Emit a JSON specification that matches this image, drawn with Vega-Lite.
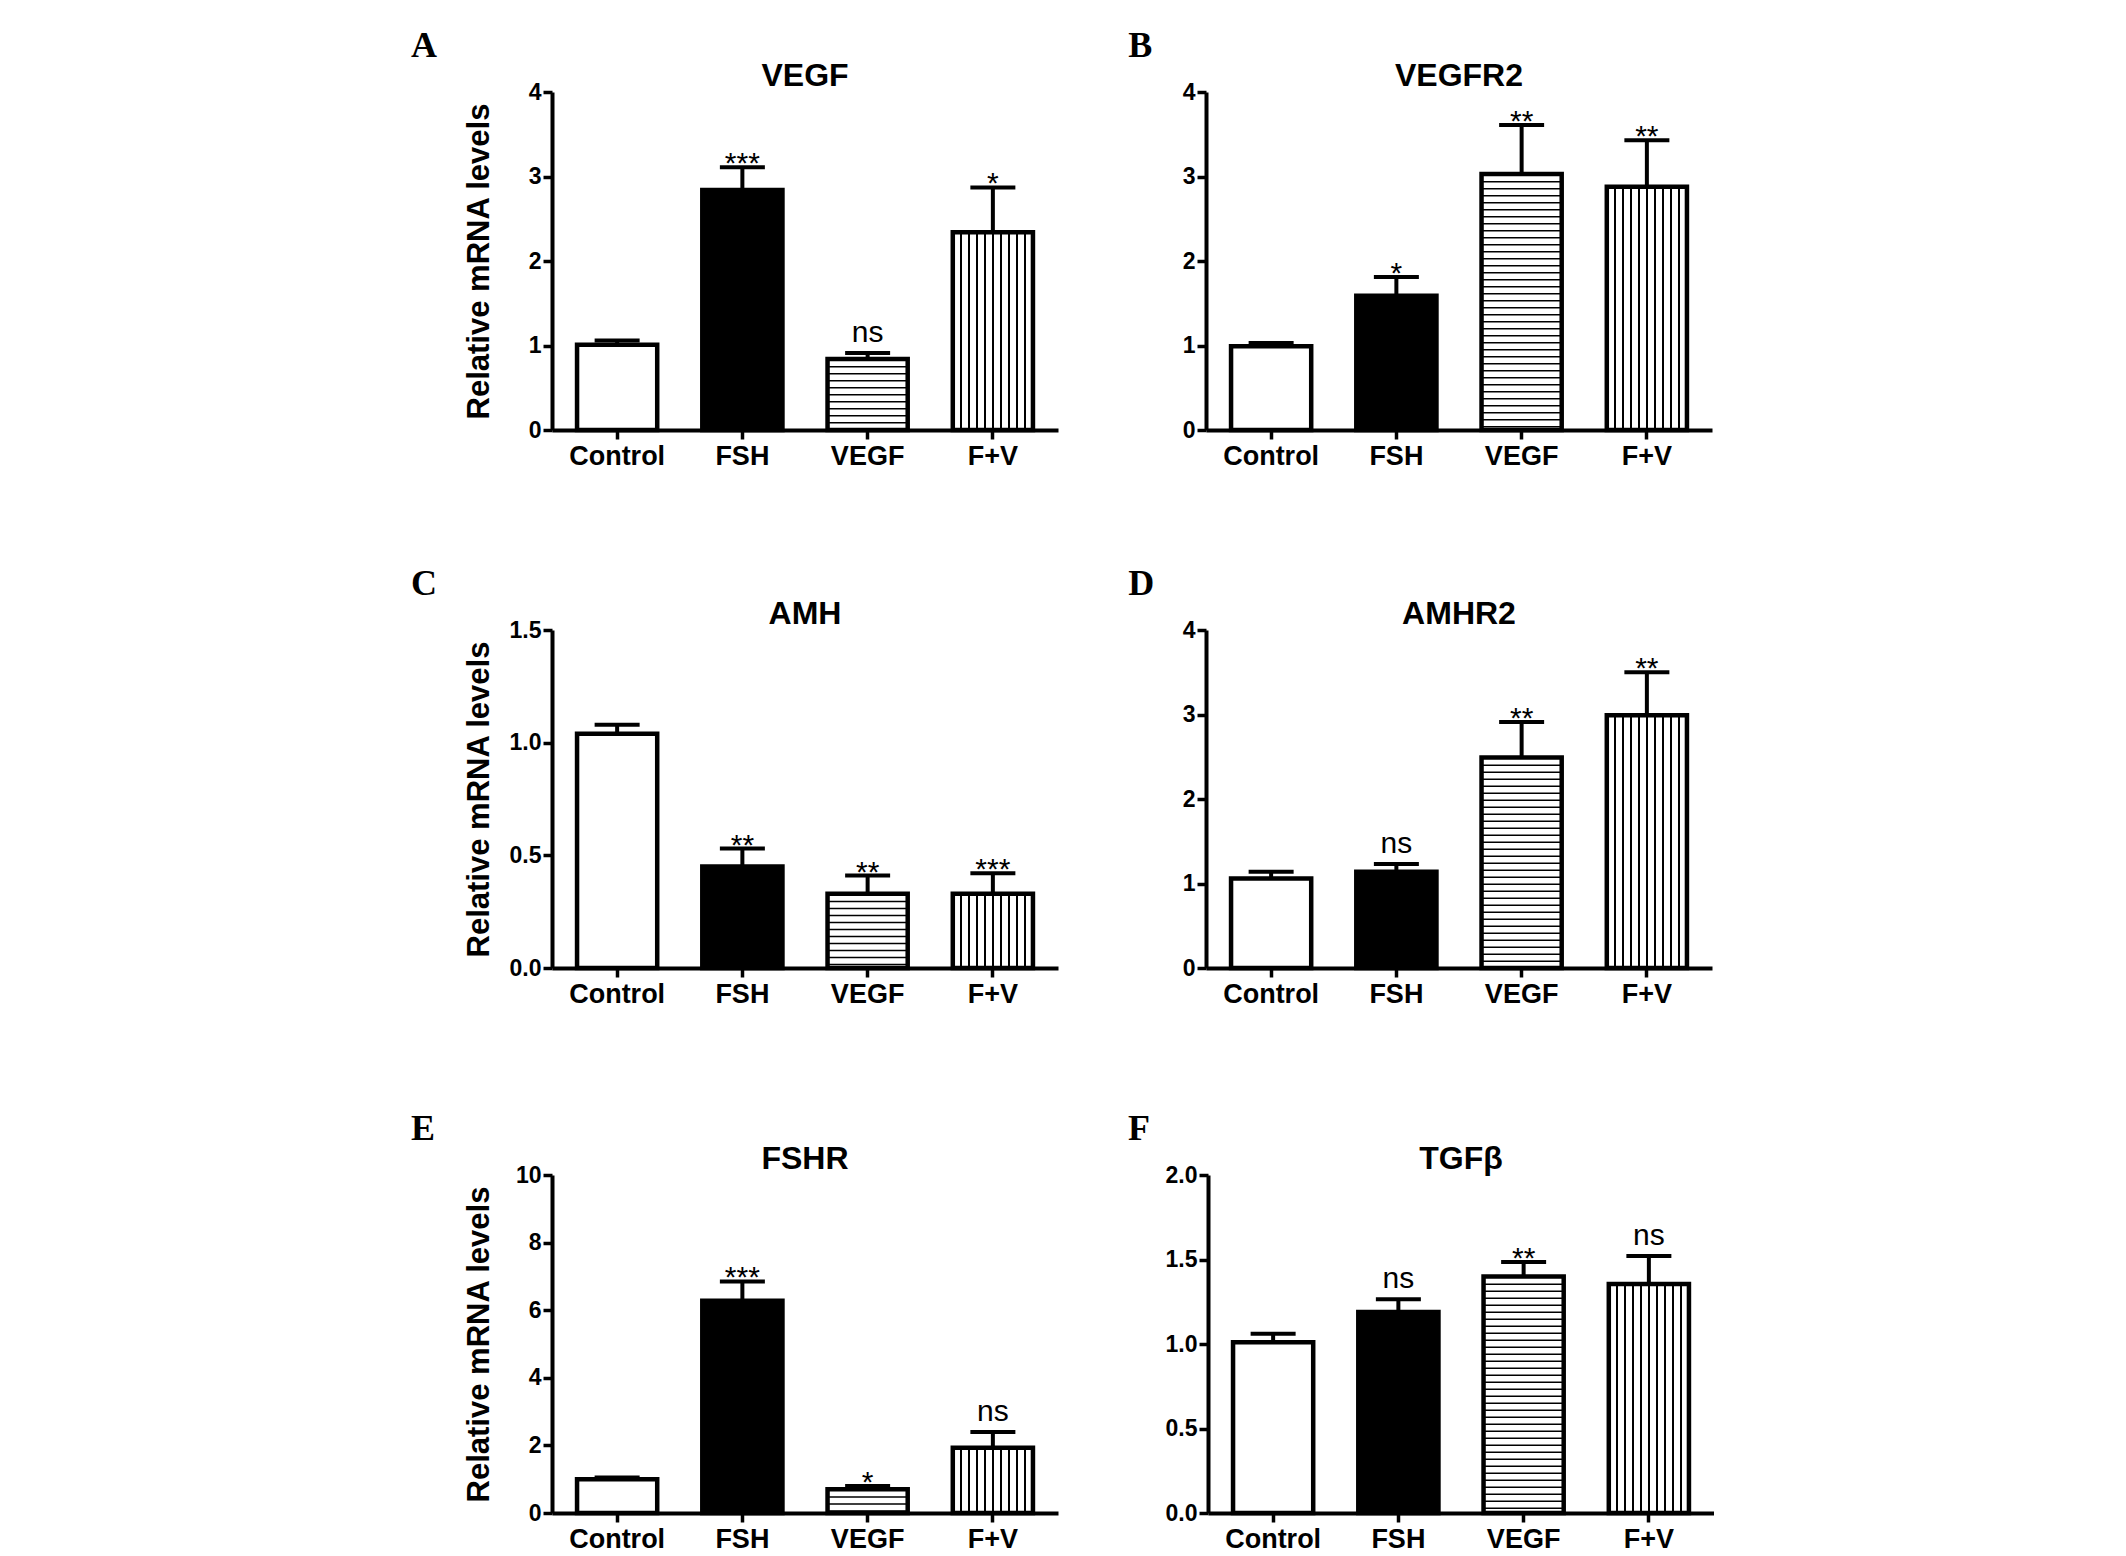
{
  "$schema": "https://vega.github.io/schema/vega-lite/v6.json",
  "background": "white",
  "padding": {"left": 411, "top": 28, "right": 0, "bottom": 0},
  "config": {
    "view": {"stroke": null},
    "font": "Liberation Sans",
    "axis": {"domainColor": "black", "domainWidth": 4, "tickColor": "black", "tickWidth": 3.5, "tickSize": 9, "labelColor": "black", "labelFont": "Liberation Sans", "labelFontWeight": "bold", "grid": false, "titleColor": "black"},
    "axisX": {"labelFontSize": 27, "labelPadding": 4, "labelAngle": 0, "title": null},
    "axisY": {"labelFontSize": 23, "labelPadding": 2, "titleFont": "Liberation Sans", "titleFontSize": 31, "titleFontWeight": "bold", "titleX": -73, "titleY": 169, "titleBaseline": "middle", "titleAlign": "center", "titleAngle": -90},
    "title": {"font": "Liberation Sans", "fontSize": 32, "fontWeight": "bold", "color": "black", "offset": -12, "baseline": "alphabetic"}
  },
  "data": {"values": [
    {"gene": "VEGF", "group": "Control", "mean": 1.01, "upper": 1.06, "sig": ""},
    {"gene": "VEGF", "group": "FSH", "mean": 2.84, "upper": 3.11, "sig": "***"},
    {"gene": "VEGF", "group": "VEGF", "mean": 0.84, "upper": 0.91, "sig": "ns"},
    {"gene": "VEGF", "group": "F+V", "mean": 2.34, "upper": 2.87, "sig": "*"},
    {"gene": "VEGFR2", "group": "Control", "mean": 0.99, "upper": 1.03, "sig": ""},
    {"gene": "VEGFR2", "group": "FSH", "mean": 1.59, "upper": 1.81, "sig": "*"},
    {"gene": "VEGFR2", "group": "VEGF", "mean": 3.03, "upper": 3.61, "sig": "**"},
    {"gene": "VEGFR2", "group": "F+V", "mean": 2.88, "upper": 3.43, "sig": "**"},
    {"gene": "AMH", "group": "Control", "mean": 1.04, "upper": 1.08, "sig": ""},
    {"gene": "AMH", "group": "FSH", "mean": 0.45, "upper": 0.53, "sig": "**"},
    {"gene": "AMH", "group": "VEGF", "mean": 0.33, "upper": 0.41, "sig": "**"},
    {"gene": "AMH", "group": "F+V", "mean": 0.33, "upper": 0.42, "sig": "***"},
    {"gene": "AMHR2", "group": "Control", "mean": 1.06, "upper": 1.14, "sig": ""},
    {"gene": "AMHR2", "group": "FSH", "mean": 1.14, "upper": 1.23, "sig": "ns"},
    {"gene": "AMHR2", "group": "VEGF", "mean": 2.49, "upper": 2.91, "sig": "**"},
    {"gene": "AMHR2", "group": "F+V", "mean": 2.99, "upper": 3.5, "sig": "**"},
    {"gene": "FSHR", "group": "Control", "mean": 1.0, "upper": 1.05, "sig": ""},
    {"gene": "FSHR", "group": "FSH", "mean": 6.28, "upper": 6.85, "sig": "***"},
    {"gene": "FSHR", "group": "VEGF", "mean": 0.7, "upper": 0.8, "sig": "*"},
    {"gene": "FSHR", "group": "F+V", "mean": 1.93, "upper": 2.4, "sig": "ns"},
    {"gene": "TGFβ", "group": "Control", "mean": 1.01, "upper": 1.06, "sig": ""},
    {"gene": "TGFβ", "group": "FSH", "mean": 1.19, "upper": 1.265, "sig": "ns"},
    {"gene": "TGFβ", "group": "VEGF", "mean": 1.4, "upper": 1.485, "sig": "**"},
    {"gene": "TGFβ", "group": "F+V", "mean": 1.355, "upper": 1.52, "sig": "ns"}
  ]},
  "spacing": 96,
  "resolve": {"scale": {"x": "independent", "y": "independent"}},
  "vconcat": [
    {
      "spacing": 70,
      "resolve": {"scale": {"x": "independent", "y": "independent"}},
      "hconcat": [
        {
          "title": {"text": "A", "anchor": "start", "dx": -52, "offset": -33, "font": "Liberation Serif", "fontSize": 36, "fontWeight": "bold", "baseline": "alphabetic"},
          "hconcat": [{
            "title": {"text": "VEGF"},
            "width": 506, "height": 338,
            "transform": [{"filter": "datum.gene === 'VEGF'"}],
            "encoding": {
              "x": {"field": "group", "type": "nominal", "scale": {"domain": ["Control", "FSH", "VEGF", "F+V"], "paddingInner": 0.36, "paddingOuter": 0.2}},
              "y": {"field": "mean", "type": "quantitative", "scale": {"domain": [0, 4], "nice": false}, "axis": {"values": [0, 1, 2, 3, 4], "format": "d", "title": "Relative mRNA levels"}}
            },
            "layer": [
              {"transform": [{"filter": "datum.group !== 'F+V'"}], "mark": {"type": "bar", "strokeWidth": 0}, "encoding": {"fill": {"condition": {"test": "datum.group === 'FSH'", "value": "black"}, "value": "white"}}},
              {"transform": [{"filter": "datum.group === 'VEGF'"}], "mark": {"type": "rule", "color": "black", "strokeWidth": 80, "strokeDash": [1.5, 5.5], "strokeCap": "butt"}, "encoding": {"y2": {"datum": 0}}},
              {"transform": [{"filter": "datum.group === 'F+V'"}], "mark": {"type": "bar", "strokeWidth": 0, "fill": {"gradient": "linear", "x1": 0, "y1": 0, "x2": 1, "y2": 0, "stops": [
                {"offset": 0, "color": "white"},
                {"offset": 0.09, "color": "white"}, {"offset": 0.09, "color": "black"}, {"offset": 0.11, "color": "black"}, {"offset": 0.11, "color": "white"},
                {"offset": 0.19, "color": "white"}, {"offset": 0.19, "color": "black"}, {"offset": 0.21, "color": "black"}, {"offset": 0.21, "color": "white"},
                {"offset": 0.29, "color": "white"}, {"offset": 0.29, "color": "black"}, {"offset": 0.31, "color": "black"}, {"offset": 0.31, "color": "white"},
                {"offset": 0.39, "color": "white"}, {"offset": 0.39, "color": "black"}, {"offset": 0.41, "color": "black"}, {"offset": 0.41, "color": "white"},
                {"offset": 0.49, "color": "white"}, {"offset": 0.49, "color": "black"}, {"offset": 0.51, "color": "black"}, {"offset": 0.51, "color": "white"},
                {"offset": 0.59, "color": "white"}, {"offset": 0.59, "color": "black"}, {"offset": 0.61, "color": "black"}, {"offset": 0.61, "color": "white"},
                {"offset": 0.69, "color": "white"}, {"offset": 0.69, "color": "black"}, {"offset": 0.71, "color": "black"}, {"offset": 0.71, "color": "white"},
                {"offset": 0.79, "color": "white"}, {"offset": 0.79, "color": "black"}, {"offset": 0.81, "color": "black"}, {"offset": 0.81, "color": "white"},
                {"offset": 0.89, "color": "white"}, {"offset": 0.89, "color": "black"}, {"offset": 0.91, "color": "black"}, {"offset": 0.91, "color": "white"},
                {"offset": 1, "color": "white"}]}}},
              {"mark": {"type": "bar", "fillOpacity": 0, "stroke": "black", "strokeWidth": 4.5, "strokeJoin": "miter"}},
              {"mark": {"type": "rule", "color": "black", "strokeWidth": 4}, "encoding": {"y2": {"field": "upper"}}},
              {"mark": {"type": "tick", "color": "black", "size": 45, "thickness": 4, "opacity": 1}, "encoding": {"y": {"field": "upper", "type": "quantitative"}}},
              {"transform": [{"filter": "datum.sig === 'ns'"}], "mark": {"type": "text", "fontSize": 30, "baseline": "alphabetic", "dy": -11, "color": "black"}, "encoding": {"y": {"field": "upper", "type": "quantitative"}, "text": {"field": "sig"}}},
              {"transform": [{"filter": "datum.sig !== 'ns' && datum.sig !== ''"}], "mark": {"type": "text", "fontSize": 30, "baseline": "alphabetic", "dy": 6, "color": "black"}, "encoding": {"y": {"field": "upper", "type": "quantitative"}, "text": {"field": "sig"}}}
            ]
          }]
        },
        {
          "title": {"text": "B", "anchor": "start", "dx": -54, "offset": -33, "font": "Liberation Serif", "fontSize": 36, "fontWeight": "bold", "baseline": "alphabetic"},
          "hconcat": [{
            "title": {"text": "VEGFR2"},
            "width": 506, "height": 338,
            "transform": [{"filter": "datum.gene === 'VEGFR2'"}],
            "encoding": {
              "x": {"field": "group", "type": "nominal", "scale": {"domain": ["Control", "FSH", "VEGF", "F+V"], "paddingInner": 0.36, "paddingOuter": 0.2}},
              "y": {"field": "mean", "type": "quantitative", "scale": {"domain": [0, 4], "nice": false}, "axis": {"values": [0, 1, 2, 3, 4], "format": "d", "title": null}}
            },
            "layer": [
              {"transform": [{"filter": "datum.group !== 'F+V'"}], "mark": {"type": "bar", "strokeWidth": 0}, "encoding": {"fill": {"condition": {"test": "datum.group === 'FSH'", "value": "black"}, "value": "white"}}},
              {"transform": [{"filter": "datum.group === 'VEGF'"}], "mark": {"type": "rule", "color": "black", "strokeWidth": 80, "strokeDash": [1.5, 5.5], "strokeCap": "butt"}, "encoding": {"y2": {"datum": 0}}},
              {"transform": [{"filter": "datum.group === 'F+V'"}], "mark": {"type": "bar", "strokeWidth": 0, "fill": {"gradient": "linear", "x1": 0, "y1": 0, "x2": 1, "y2": 0, "stops": [
                {"offset": 0, "color": "white"},
                {"offset": 0.09, "color": "white"}, {"offset": 0.09, "color": "black"}, {"offset": 0.11, "color": "black"}, {"offset": 0.11, "color": "white"},
                {"offset": 0.19, "color": "white"}, {"offset": 0.19, "color": "black"}, {"offset": 0.21, "color": "black"}, {"offset": 0.21, "color": "white"},
                {"offset": 0.29, "color": "white"}, {"offset": 0.29, "color": "black"}, {"offset": 0.31, "color": "black"}, {"offset": 0.31, "color": "white"},
                {"offset": 0.39, "color": "white"}, {"offset": 0.39, "color": "black"}, {"offset": 0.41, "color": "black"}, {"offset": 0.41, "color": "white"},
                {"offset": 0.49, "color": "white"}, {"offset": 0.49, "color": "black"}, {"offset": 0.51, "color": "black"}, {"offset": 0.51, "color": "white"},
                {"offset": 0.59, "color": "white"}, {"offset": 0.59, "color": "black"}, {"offset": 0.61, "color": "black"}, {"offset": 0.61, "color": "white"},
                {"offset": 0.69, "color": "white"}, {"offset": 0.69, "color": "black"}, {"offset": 0.71, "color": "black"}, {"offset": 0.71, "color": "white"},
                {"offset": 0.79, "color": "white"}, {"offset": 0.79, "color": "black"}, {"offset": 0.81, "color": "black"}, {"offset": 0.81, "color": "white"},
                {"offset": 0.89, "color": "white"}, {"offset": 0.89, "color": "black"}, {"offset": 0.91, "color": "black"}, {"offset": 0.91, "color": "white"},
                {"offset": 1, "color": "white"}]}}},
              {"mark": {"type": "bar", "fillOpacity": 0, "stroke": "black", "strokeWidth": 4.5, "strokeJoin": "miter"}},
              {"mark": {"type": "rule", "color": "black", "strokeWidth": 4}, "encoding": {"y2": {"field": "upper"}}},
              {"mark": {"type": "tick", "color": "black", "size": 45, "thickness": 4, "opacity": 1}, "encoding": {"y": {"field": "upper", "type": "quantitative"}}},
              {"transform": [{"filter": "datum.sig === 'ns'"}], "mark": {"type": "text", "fontSize": 30, "baseline": "alphabetic", "dy": -11, "color": "black"}, "encoding": {"y": {"field": "upper", "type": "quantitative"}, "text": {"field": "sig"}}},
              {"transform": [{"filter": "datum.sig !== 'ns' && datum.sig !== ''"}], "mark": {"type": "text", "fontSize": 30, "baseline": "alphabetic", "dy": 6, "color": "black"}, "encoding": {"y": {"field": "upper", "type": "quantitative"}, "text": {"field": "sig"}}}
            ]
          }]
        }
      ]
    },
    {
      "spacing": 103,
      "resolve": {"scale": {"x": "independent", "y": "independent"}},
      "vconcat": [
        {
          "spacing": 70,
          "resolve": {"scale": {"x": "independent", "y": "independent"}},
          "hconcat": [
            {
              "title": {"text": "C", "anchor": "start", "dx": -52, "offset": -33, "font": "Liberation Serif", "fontSize": 36, "fontWeight": "bold", "baseline": "alphabetic"},
              "hconcat": [{
                "title": {"text": "AMH"},
                "width": 506, "height": 338,
                "transform": [{"filter": "datum.gene === 'AMH'"}],
                "encoding": {
                  "x": {"field": "group", "type": "nominal", "scale": {"domain": ["Control", "FSH", "VEGF", "F+V"], "paddingInner": 0.36, "paddingOuter": 0.2}},
                  "y": {"field": "mean", "type": "quantitative", "scale": {"domain": [0, 1.5], "nice": false}, "axis": {"values": [0, 0.5, 1, 1.5], "format": ".1f", "title": "Relative mRNA levels"}}
                },
                "layer": [
                  {"transform": [{"filter": "datum.group !== 'F+V'"}], "mark": {"type": "bar", "strokeWidth": 0}, "encoding": {"fill": {"condition": {"test": "datum.group === 'FSH'", "value": "black"}, "value": "white"}}},
                  {"transform": [{"filter": "datum.group === 'VEGF'"}], "mark": {"type": "rule", "color": "black", "strokeWidth": 80, "strokeDash": [1.5, 5.5], "strokeCap": "butt"}, "encoding": {"y2": {"datum": 0}}},
                  {"transform": [{"filter": "datum.group === 'F+V'"}], "mark": {"type": "bar", "strokeWidth": 0, "fill": {"gradient": "linear", "x1": 0, "y1": 0, "x2": 1, "y2": 0, "stops": [
                    {"offset": 0, "color": "white"},
                    {"offset": 0.09, "color": "white"}, {"offset": 0.09, "color": "black"}, {"offset": 0.11, "color": "black"}, {"offset": 0.11, "color": "white"},
                    {"offset": 0.19, "color": "white"}, {"offset": 0.19, "color": "black"}, {"offset": 0.21, "color": "black"}, {"offset": 0.21, "color": "white"},
                    {"offset": 0.29, "color": "white"}, {"offset": 0.29, "color": "black"}, {"offset": 0.31, "color": "black"}, {"offset": 0.31, "color": "white"},
                    {"offset": 0.39, "color": "white"}, {"offset": 0.39, "color": "black"}, {"offset": 0.41, "color": "black"}, {"offset": 0.41, "color": "white"},
                    {"offset": 0.49, "color": "white"}, {"offset": 0.49, "color": "black"}, {"offset": 0.51, "color": "black"}, {"offset": 0.51, "color": "white"},
                    {"offset": 0.59, "color": "white"}, {"offset": 0.59, "color": "black"}, {"offset": 0.61, "color": "black"}, {"offset": 0.61, "color": "white"},
                    {"offset": 0.69, "color": "white"}, {"offset": 0.69, "color": "black"}, {"offset": 0.71, "color": "black"}, {"offset": 0.71, "color": "white"},
                    {"offset": 0.79, "color": "white"}, {"offset": 0.79, "color": "black"}, {"offset": 0.81, "color": "black"}, {"offset": 0.81, "color": "white"},
                    {"offset": 0.89, "color": "white"}, {"offset": 0.89, "color": "black"}, {"offset": 0.91, "color": "black"}, {"offset": 0.91, "color": "white"},
                    {"offset": 1, "color": "white"}]}}},
                  {"mark": {"type": "bar", "fillOpacity": 0, "stroke": "black", "strokeWidth": 4.5, "strokeJoin": "miter"}},
                  {"mark": {"type": "rule", "color": "black", "strokeWidth": 4}, "encoding": {"y2": {"field": "upper"}}},
                  {"mark": {"type": "tick", "color": "black", "size": 45, "thickness": 4, "opacity": 1}, "encoding": {"y": {"field": "upper", "type": "quantitative"}}},
                  {"transform": [{"filter": "datum.sig === 'ns'"}], "mark": {"type": "text", "fontSize": 30, "baseline": "alphabetic", "dy": -11, "color": "black"}, "encoding": {"y": {"field": "upper", "type": "quantitative"}, "text": {"field": "sig"}}},
                  {"transform": [{"filter": "datum.sig !== 'ns' && datum.sig !== ''"}], "mark": {"type": "text", "fontSize": 30, "baseline": "alphabetic", "dy": 6, "color": "black"}, "encoding": {"y": {"field": "upper", "type": "quantitative"}, "text": {"field": "sig"}}}
                ]
              }]
            },
            {
              "title": {"text": "D", "anchor": "start", "dx": -54, "offset": -33, "font": "Liberation Serif", "fontSize": 36, "fontWeight": "bold", "baseline": "alphabetic"},
              "hconcat": [{
                "title": {"text": "AMHR2"},
                "width": 506, "height": 338,
                "transform": [{"filter": "datum.gene === 'AMHR2'"}],
                "encoding": {
                  "x": {"field": "group", "type": "nominal", "scale": {"domain": ["Control", "FSH", "VEGF", "F+V"], "paddingInner": 0.36, "paddingOuter": 0.2}},
                  "y": {"field": "mean", "type": "quantitative", "scale": {"domain": [0, 4], "nice": false}, "axis": {"values": [0, 1, 2, 3, 4], "format": "d", "title": null}}
                },
                "layer": [
                  {"transform": [{"filter": "datum.group !== 'F+V'"}], "mark": {"type": "bar", "strokeWidth": 0}, "encoding": {"fill": {"condition": {"test": "datum.group === 'FSH'", "value": "black"}, "value": "white"}}},
                  {"transform": [{"filter": "datum.group === 'VEGF'"}], "mark": {"type": "rule", "color": "black", "strokeWidth": 80, "strokeDash": [1.5, 5.5], "strokeCap": "butt"}, "encoding": {"y2": {"datum": 0}}},
                  {"transform": [{"filter": "datum.group === 'F+V'"}], "mark": {"type": "bar", "strokeWidth": 0, "fill": {"gradient": "linear", "x1": 0, "y1": 0, "x2": 1, "y2": 0, "stops": [
                    {"offset": 0, "color": "white"},
                    {"offset": 0.09, "color": "white"}, {"offset": 0.09, "color": "black"}, {"offset": 0.11, "color": "black"}, {"offset": 0.11, "color": "white"},
                    {"offset": 0.19, "color": "white"}, {"offset": 0.19, "color": "black"}, {"offset": 0.21, "color": "black"}, {"offset": 0.21, "color": "white"},
                    {"offset": 0.29, "color": "white"}, {"offset": 0.29, "color": "black"}, {"offset": 0.31, "color": "black"}, {"offset": 0.31, "color": "white"},
                    {"offset": 0.39, "color": "white"}, {"offset": 0.39, "color": "black"}, {"offset": 0.41, "color": "black"}, {"offset": 0.41, "color": "white"},
                    {"offset": 0.49, "color": "white"}, {"offset": 0.49, "color": "black"}, {"offset": 0.51, "color": "black"}, {"offset": 0.51, "color": "white"},
                    {"offset": 0.59, "color": "white"}, {"offset": 0.59, "color": "black"}, {"offset": 0.61, "color": "black"}, {"offset": 0.61, "color": "white"},
                    {"offset": 0.69, "color": "white"}, {"offset": 0.69, "color": "black"}, {"offset": 0.71, "color": "black"}, {"offset": 0.71, "color": "white"},
                    {"offset": 0.79, "color": "white"}, {"offset": 0.79, "color": "black"}, {"offset": 0.81, "color": "black"}, {"offset": 0.81, "color": "white"},
                    {"offset": 0.89, "color": "white"}, {"offset": 0.89, "color": "black"}, {"offset": 0.91, "color": "black"}, {"offset": 0.91, "color": "white"},
                    {"offset": 1, "color": "white"}]}}},
                  {"mark": {"type": "bar", "fillOpacity": 0, "stroke": "black", "strokeWidth": 4.5, "strokeJoin": "miter"}},
                  {"mark": {"type": "rule", "color": "black", "strokeWidth": 4}, "encoding": {"y2": {"field": "upper"}}},
                  {"mark": {"type": "tick", "color": "black", "size": 45, "thickness": 4, "opacity": 1}, "encoding": {"y": {"field": "upper", "type": "quantitative"}}},
                  {"transform": [{"filter": "datum.sig === 'ns'"}], "mark": {"type": "text", "fontSize": 30, "baseline": "alphabetic", "dy": -11, "color": "black"}, "encoding": {"y": {"field": "upper", "type": "quantitative"}, "text": {"field": "sig"}}},
                  {"transform": [{"filter": "datum.sig !== 'ns' && datum.sig !== ''"}], "mark": {"type": "text", "fontSize": 30, "baseline": "alphabetic", "dy": 6, "color": "black"}, "encoding": {"y": {"field": "upper", "type": "quantitative"}, "text": {"field": "sig"}}}
                ]
              }]
            }
          ]
        },
        {
          "spacing": 70,
          "resolve": {"scale": {"x": "independent", "y": "independent"}},
          "hconcat": [
            {
              "title": {"text": "E", "anchor": "start", "dx": -52, "offset": -33, "font": "Liberation Serif", "fontSize": 36, "fontWeight": "bold", "baseline": "alphabetic"},
              "hconcat": [{
                "title": {"text": "FSHR"},
                "width": 506, "height": 338,
                "transform": [{"filter": "datum.gene === 'FSHR'"}],
                "encoding": {
                  "x": {"field": "group", "type": "nominal", "scale": {"domain": ["Control", "FSH", "VEGF", "F+V"], "paddingInner": 0.36, "paddingOuter": 0.2}},
                  "y": {"field": "mean", "type": "quantitative", "scale": {"domain": [0, 10], "nice": false}, "axis": {"values": [0, 2, 4, 6, 8, 10], "format": "d", "title": "Relative mRNA levels"}}
                },
                "layer": [
                  {"transform": [{"filter": "datum.group !== 'F+V'"}], "mark": {"type": "bar", "strokeWidth": 0}, "encoding": {"fill": {"condition": {"test": "datum.group === 'FSH'", "value": "black"}, "value": "white"}}},
                  {"transform": [{"filter": "datum.group === 'VEGF'"}], "mark": {"type": "rule", "color": "black", "strokeWidth": 80, "strokeDash": [1.5, 5.5], "strokeCap": "butt"}, "encoding": {"y2": {"datum": 0}}},
                  {"transform": [{"filter": "datum.group === 'F+V'"}], "mark": {"type": "bar", "strokeWidth": 0, "fill": {"gradient": "linear", "x1": 0, "y1": 0, "x2": 1, "y2": 0, "stops": [
                    {"offset": 0, "color": "white"},
                    {"offset": 0.09, "color": "white"}, {"offset": 0.09, "color": "black"}, {"offset": 0.11, "color": "black"}, {"offset": 0.11, "color": "white"},
                    {"offset": 0.19, "color": "white"}, {"offset": 0.19, "color": "black"}, {"offset": 0.21, "color": "black"}, {"offset": 0.21, "color": "white"},
                    {"offset": 0.29, "color": "white"}, {"offset": 0.29, "color": "black"}, {"offset": 0.31, "color": "black"}, {"offset": 0.31, "color": "white"},
                    {"offset": 0.39, "color": "white"}, {"offset": 0.39, "color": "black"}, {"offset": 0.41, "color": "black"}, {"offset": 0.41, "color": "white"},
                    {"offset": 0.49, "color": "white"}, {"offset": 0.49, "color": "black"}, {"offset": 0.51, "color": "black"}, {"offset": 0.51, "color": "white"},
                    {"offset": 0.59, "color": "white"}, {"offset": 0.59, "color": "black"}, {"offset": 0.61, "color": "black"}, {"offset": 0.61, "color": "white"},
                    {"offset": 0.69, "color": "white"}, {"offset": 0.69, "color": "black"}, {"offset": 0.71, "color": "black"}, {"offset": 0.71, "color": "white"},
                    {"offset": 0.79, "color": "white"}, {"offset": 0.79, "color": "black"}, {"offset": 0.81, "color": "black"}, {"offset": 0.81, "color": "white"},
                    {"offset": 0.89, "color": "white"}, {"offset": 0.89, "color": "black"}, {"offset": 0.91, "color": "black"}, {"offset": 0.91, "color": "white"},
                    {"offset": 1, "color": "white"}]}}},
                  {"mark": {"type": "bar", "fillOpacity": 0, "stroke": "black", "strokeWidth": 4.5, "strokeJoin": "miter"}},
                  {"mark": {"type": "rule", "color": "black", "strokeWidth": 4}, "encoding": {"y2": {"field": "upper"}}},
                  {"mark": {"type": "tick", "color": "black", "size": 45, "thickness": 4, "opacity": 1}, "encoding": {"y": {"field": "upper", "type": "quantitative"}}},
                  {"transform": [{"filter": "datum.sig === 'ns'"}], "mark": {"type": "text", "fontSize": 30, "baseline": "alphabetic", "dy": -11, "color": "black"}, "encoding": {"y": {"field": "upper", "type": "quantitative"}, "text": {"field": "sig"}}},
                  {"transform": [{"filter": "datum.sig !== 'ns' && datum.sig !== ''"}], "mark": {"type": "text", "fontSize": 30, "baseline": "alphabetic", "dy": 6, "color": "black"}, "encoding": {"y": {"field": "upper", "type": "quantitative"}, "text": {"field": "sig"}}}
                ]
              }]
            },
            {
              "title": {"text": "F", "anchor": "start", "dx": -37, "offset": -33, "font": "Liberation Serif", "fontSize": 36, "fontWeight": "bold", "baseline": "alphabetic"},
              "hconcat": [{
                "title": {"text": "TGFβ"},
                "width": 506, "height": 338,
                "transform": [{"filter": "datum.gene === 'TGFβ'"}],
                "encoding": {
                  "x": {"field": "group", "type": "nominal", "scale": {"domain": ["Control", "FSH", "VEGF", "F+V"], "paddingInner": 0.36, "paddingOuter": 0.2}},
                  "y": {"field": "mean", "type": "quantitative", "scale": {"domain": [0, 2], "nice": false}, "axis": {"values": [0, 0.5, 1, 1.5, 2], "format": ".1f", "title": null}}
                },
                "layer": [
                  {"transform": [{"filter": "datum.group !== 'F+V'"}], "mark": {"type": "bar", "strokeWidth": 0}, "encoding": {"fill": {"condition": {"test": "datum.group === 'FSH'", "value": "black"}, "value": "white"}}},
                  {"transform": [{"filter": "datum.group === 'VEGF'"}], "mark": {"type": "rule", "color": "black", "strokeWidth": 80, "strokeDash": [1.5, 5.5], "strokeCap": "butt"}, "encoding": {"y2": {"datum": 0}}},
                  {"transform": [{"filter": "datum.group === 'F+V'"}], "mark": {"type": "bar", "strokeWidth": 0, "fill": {"gradient": "linear", "x1": 0, "y1": 0, "x2": 1, "y2": 0, "stops": [
                    {"offset": 0, "color": "white"},
                    {"offset": 0.09, "color": "white"}, {"offset": 0.09, "color": "black"}, {"offset": 0.11, "color": "black"}, {"offset": 0.11, "color": "white"},
                    {"offset": 0.19, "color": "white"}, {"offset": 0.19, "color": "black"}, {"offset": 0.21, "color": "black"}, {"offset": 0.21, "color": "white"},
                    {"offset": 0.29, "color": "white"}, {"offset": 0.29, "color": "black"}, {"offset": 0.31, "color": "black"}, {"offset": 0.31, "color": "white"},
                    {"offset": 0.39, "color": "white"}, {"offset": 0.39, "color": "black"}, {"offset": 0.41, "color": "black"}, {"offset": 0.41, "color": "white"},
                    {"offset": 0.49, "color": "white"}, {"offset": 0.49, "color": "black"}, {"offset": 0.51, "color": "black"}, {"offset": 0.51, "color": "white"},
                    {"offset": 0.59, "color": "white"}, {"offset": 0.59, "color": "black"}, {"offset": 0.61, "color": "black"}, {"offset": 0.61, "color": "white"},
                    {"offset": 0.69, "color": "white"}, {"offset": 0.69, "color": "black"}, {"offset": 0.71, "color": "black"}, {"offset": 0.71, "color": "white"},
                    {"offset": 0.79, "color": "white"}, {"offset": 0.79, "color": "black"}, {"offset": 0.81, "color": "black"}, {"offset": 0.81, "color": "white"},
                    {"offset": 0.89, "color": "white"}, {"offset": 0.89, "color": "black"}, {"offset": 0.91, "color": "black"}, {"offset": 0.91, "color": "white"},
                    {"offset": 1, "color": "white"}]}}},
                  {"mark": {"type": "bar", "fillOpacity": 0, "stroke": "black", "strokeWidth": 4.5, "strokeJoin": "miter"}},
                  {"mark": {"type": "rule", "color": "black", "strokeWidth": 4}, "encoding": {"y2": {"field": "upper"}}},
                  {"mark": {"type": "tick", "color": "black", "size": 45, "thickness": 4, "opacity": 1}, "encoding": {"y": {"field": "upper", "type": "quantitative"}}},
                  {"transform": [{"filter": "datum.sig === 'ns'"}], "mark": {"type": "text", "fontSize": 30, "baseline": "alphabetic", "dy": -11, "color": "black"}, "encoding": {"y": {"field": "upper", "type": "quantitative"}, "text": {"field": "sig"}}},
                  {"transform": [{"filter": "datum.sig !== 'ns' && datum.sig !== ''"}], "mark": {"type": "text", "fontSize": 30, "baseline": "alphabetic", "dy": 6, "color": "black"}, "encoding": {"y": {"field": "upper", "type": "quantitative"}, "text": {"field": "sig"}}}
                ]
              }]
            }
          ]
        }
      ]
    }
  ]
}
